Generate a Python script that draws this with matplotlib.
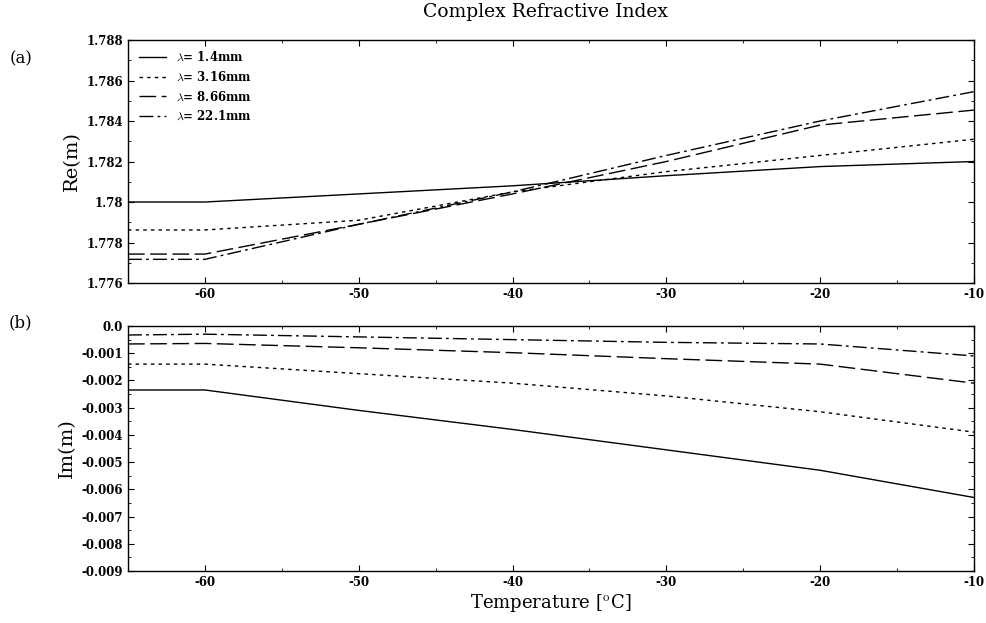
import matplotlib
matplotlib.use("Agg")
import matplotlib.pyplot as plt
from matplotlib.ticker import MultipleLocator, AutoMinorLocator

plt.rcParams['font.family'] = 'DejaVu Serif'
plt.rcParams['mathtext.fontset'] = 'cm'
plt.rcParams['axes.unicode_minus'] = False

# temperatura en grados C
temperatura = [-65, -60, -50, -40, -30, -20, -10]

etiquetas = [r'$\lambda$= 1.4mm', r'$\lambda$= 3.16mm', r'$\lambda$= 8.66mm', r'$\lambda$= 22.1mm']

# parte real
re_14 = [1.7800, 1.7800, 1.7804, 1.7808, 1.7813, 1.78175, 1.7820]
re_316 = [1.77862, 1.77862, 1.7791, 1.7805, 1.7815, 1.7823, 1.7831]
re_866 = [1.77743, 1.77743, 1.7789, 1.7804, 1.7820, 1.7838, 1.78454]
re_221 = [1.77717, 1.77717, 1.7789, 1.7805, 1.7823, 1.7840, 1.78545]

# parte imaginaria
im_14 = [-0.00235, -0.00235, -0.0031, -0.0038, -0.00455, -0.0053, -0.0063]
im_316 = [-0.0014, -0.0014, -0.00175, -0.0021, -0.00257, -0.00315, -0.0039]
im_866 = [-0.00066, -0.00064, -0.0008, -0.00098, -0.0012, -0.0014, -0.0021]
im_221 = [-0.00033, -0.0003, -0.0004, -0.0005, -0.0006, -0.00066, -0.0011]

estilos = ['-', (0, (2.5, 3)), (0, (12, 4)), (0, (10, 3, 2, 3))]

fig = plt.figure(figsize=(9.86, 6.23), dpi=100)
ax1 = fig.add_axes([0.1298, 0.5457, 0.858, 0.3901])
ax2 = fig.add_axes([0.1298, 0.0835, 0.858, 0.3932])

for serie, ls, lab in zip([re_14, re_316, re_866, re_221], estilos, etiquetas):
    ax1.plot(temperatura, serie, color='black', linestyle=ls, linewidth=1.0, label=lab)
for serie, ls in zip([im_14, im_316, im_866, im_221], estilos):
    ax2.plot(temperatura, serie, color='black', linestyle=ls, linewidth=1.0)

ax1.set_xlim(-65, -10)
ax1.set_ylim(1.776, 1.788)
ax1.set_yticks([1.776, 1.778, 1.78, 1.782, 1.784, 1.786, 1.788])
ax1.set_yticklabels(['1.776', '1.778', '1.78', '1.782', '1.784', '1.786', '1.788'])
ax1.set_ylabel('Re(m)', fontsize=14)

ax2.set_xlim(-65, -10)
ax2.set_ylim(-0.009, 0.0)
ax2.set_yticks([0.0, -0.001, -0.002, -0.003, -0.004, -0.005, -0.006, -0.007, -0.008, -0.009])
ax2.set_yticklabels(['0.0', '-0.001', '-0.002', '-0.003', '-0.004', '-0.005', '-0.006', '-0.007', '-0.008', '-0.009'])
ax2.set_ylabel('Im(m)', fontsize=14)
ax2.set_xlabel(r'Temperature [$^{\rm o}$C]', fontsize=13, labelpad=2)

for ax in [ax1, ax2]:
    ax.set_xticks([-60, -50, -40, -30, -20, -10])
    ax.set_xticklabels(['-60', '-50', '-40', '-30', '-20', '-10'])
    ax.xaxis.set_minor_locator(MultipleLocator(5))
    ax.yaxis.set_minor_locator(AutoMinorLocator(2))
    ax.tick_params(which='both', direction='in', top=True, right=True, labelsize=8.5)
    ax.tick_params(which='major', length=4)
    ax.tick_params(which='minor', length=2.5)
    for t in ax.get_xticklabels() + ax.get_yticklabels():
        t.set_fontweight('bold')
    for s in ax.spines.values():
        s.set_linewidth(1.0)

ax1.legend(loc='upper left', frameon=False, handlelength=2.3,
           labelspacing=0.55, borderaxespad=0.5, handletextpad=0.9,
           prop={'weight': 'bold', 'size': 8.5})

fig.text(0.553, 0.981, 'Complex Refractive Index', ha='center', va='center', fontsize=13.5)
fig.text(0.021, 0.905, '(a)', ha='center', va='center', fontsize=12)
fig.text(0.021, 0.482, '(b)', ha='center', va='center', fontsize=12)

plt.savefig('out.png', dpi=100)
